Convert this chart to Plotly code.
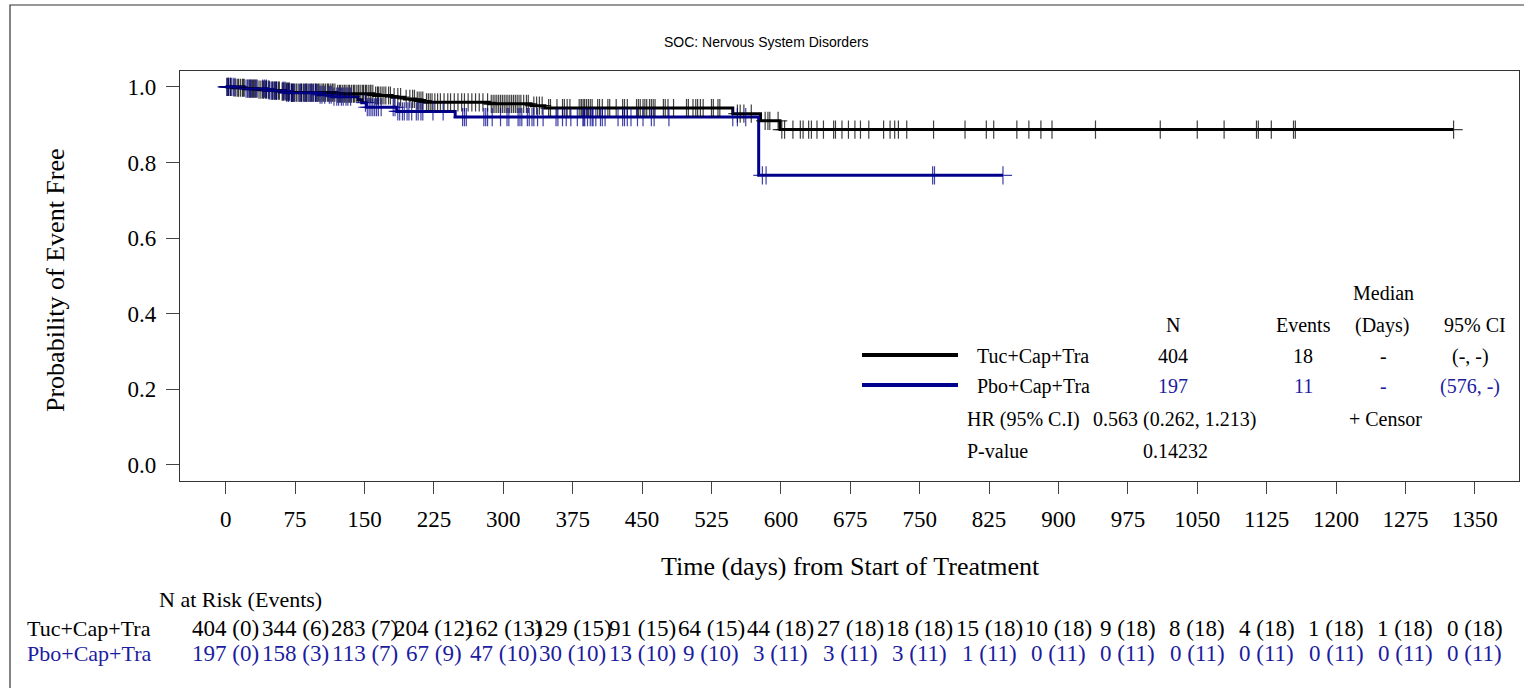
import plotly.graph_objects as go

# ------------------------------------------------------------------ data
tick_days = [0, 75, 150, 225, 300, 375, 450, 525, 600, 675, 750, 825, 900,
             975, 1050, 1125, 1200, 1275, 1350]
prob_ticks = [0.0, 0.2, 0.4, 0.6, 0.8, 1.0]

arm_names = ["Tuc+Cap+Tra", "Pbo+Cap+Tra"]

# Tuc+Cap+Tra : event days and KM survival after each event
tuc_event_days = [8, 22, 35, 48, 60, 70, 120, 160, 180, 193, 205, 215, 285,
                  330, 345, 548, 578, 599]
tuc_event_surv = [0.9975, 0.995, 0.9925, 0.990, 0.9874, 0.9848, 0.9816, 0.977,
                  0.9725, 0.968, 0.9635, 0.959, 0.955, 0.950, 0.944, 0.929,
                  0.910, 0.887]
tuc_last_day = 1327
tuc_censor_days = [
    2, 3, 5, 6, 9, 11, 13, 14, 16, 18, 19, 20, 24, 26, 27, 29, 30, 32, 33, 36,
    38, 40, 41, 43, 44, 46, 47, 50, 51, 53, 54, 55, 57, 58, 61, 62, 63, 65, 66,
    67, 68, 69, 71, 72, 73, 74,
    76, 77, 79, 81, 82, 84, 86, 87, 88, 90, 92, 93, 95, 97, 98, 100, 101, 103,
    105, 106, 108, 110, 111, 113, 115, 116, 118, 121, 123, 124, 126, 128, 129,
    131, 133, 134, 136, 138, 139, 141, 143, 144, 146, 148, 149,
    151, 152, 154, 156, 157, 159, 162, 164, 165, 167, 169, 171, 173, 176, 178,
    182, 186, 189, 195, 199, 202, 204, 207, 209, 211, 213, 217, 219, 221, 223,
    226, 229, 232, 236, 240, 243, 247, 251, 255, 258, 262, 266, 270, 274, 278,
    283, 287, 289, 291, 293, 295, 297, 299,
    301, 303, 305, 307, 309, 311, 313, 315, 317, 319, 322, 325, 327, 333, 336,
    339, 342, 349, 351, 358, 364, 366, 369, 372,
    382, 384, 385, 387, 388, 390, 392, 394, 396, 402, 404, 407, 413, 415, 422,
    429, 431, 434, 444, 446, 448,
    451, 453, 455, 458, 460, 462, 464, 473, 475, 478, 484, 498, 500, 505, 508,
    510, 513, 516, 525,
    527, 532, 534, 553, 556, 560, 568, 583, 586, 588, 597,
    601, 604, 613, 621, 624, 630, 633, 639, 646, 657, 659, 666, 673,
    680, 686, 695, 711, 718, 723, 727, 736,
    765, 799, 822, 830, 855, 868, 881, 893, 940, 1010, 1050, 1079, 1114, 1116,
    1130, 1154, 1156, 1327]

# Pbo+Cap+Tra
pbo_event_days = [20, 45, 65, 100, 115, 143, 147, 152, 185, 248, 576]
pbo_event_surv = [0.995, 0.990, 0.984, 0.979, 0.974, 0.966, 0.958, 0.946,
                  0.935, 0.920, 0.766]
pbo_last_day = 840
pbo_censor_days = [
    1, 3, 5, 8, 10, 22, 24, 26, 28, 31, 34, 40, 42, 44, 47, 49, 51, 53, 55, 62,
    64, 66, 68, 71, 72, 74,
    80, 82, 85, 87, 90, 92, 94, 97, 99, 102, 104, 107, 112, 114, 117, 120, 122,
    125, 127, 130, 132, 135,
    151, 153, 155, 157, 159, 161, 163, 165, 168, 181, 183, 186, 188, 191, 193,
    196, 198, 201, 206, 208, 211, 213, 224,
    235, 256, 258, 260, 279, 281, 283, 288, 297,
    304, 306, 316, 318, 320, 326, 328, 331, 333, 337, 343, 357, 359, 364, 368,
    373,
    380, 386, 387, 388, 391, 394, 396, 397, 400, 405, 407, 410, 424, 429, 431,
    434, 438, 445,
    451, 460, 463, 479, 548, 553, 562, 580, 584, 764, 766, 840]

tuc_at_risk = [404, 344, 283, 204, 162, 129, 91, 64, 44, 27, 18, 15, 10, 9, 8,
               4, 1, 1, 0]
tuc_cum_events = [0, 6, 7, 12, 13, 15, 15, 15, 18, 18, 18, 18, 18, 18, 18, 18,
                  18, 18, 18]
pbo_at_risk = [197, 158, 113, 67, 47, 30, 13, 9, 3, 3, 3, 1, 0, 0, 0, 0, 0, 0,
               0]
pbo_cum_events = [0, 3, 7, 9, 10, 10, 10, 10, 11, 11, 11, 11, 11, 11, 11, 11,
                  11, 11, 11]

table_headers = ["N", "Events", "(Days)", "95% CI"]
tuc_stats = ["404", "18", "-", "(-, -)"]
pbo_stats = ["197", "11", "-", "(576, -)"]
hr_label, hr_value = "HR (95% C.I)", "0.563 (0.262, 1.213)"
p_label, p_value = "P-value", "0.14232"

# ------------------------------------------------------------------ style
BLACK = "#000000"
BLUE_LINE = "#00008C"
BLUE_TEXT = "#1C1CA0"
SERIF = "Liberation Serif, Times New Roman, serif"
SANS = "Liberation Sans, Arial, sans-serif"

W, H = 1524, 688
L, R, T, B = 180, 1519, 71, 481    # plot box, page pixels


def px(x):
    return (x - L) / (R - L)


def py(y):
    return (B - y) / (B - T)


def surv_at(t, days, surv):
    s = 1.0
    for d, v in zip(days, surv):
        if d <= t:
            s = v
    return s


fig = go.Figure()

arms = [
    (arm_names[0], tuc_event_days, tuc_event_surv, tuc_last_day,
     tuc_censor_days, BLACK, "rgba(0,0,0,0.75)"),
    (arm_names[1], pbo_event_days, pbo_event_surv, pbo_last_day,
     pbo_censor_days, BLUE_LINE, "rgba(0,0,140,0.75)"),
]
for name, ed, es, last, cd, col, ccol in arms:
    xs = [0] + ed + [last]
    ys = [1.0] + es + [es[-1]]
    fig.add_trace(go.Scatter(x=xs, y=ys, mode="lines", line_shape="hv",
                             line=dict(color=col, width=3), name=name,
                             showlegend=False, hoverinfo="skip"))
for name, ed, es, last, cd, col, ccol in arms:
    fig.add_trace(go.Scatter(
        x=cd, y=[surv_at(t, ed, es) for t in cd], mode="markers",
        marker=dict(symbol="cross-thin", size=13, color=ccol,
                    line=dict(color=ccol, width=1.2)),
        showlegend=False, hoverinfo="skip"))

annotations = []


def add_text(x, y, text, color=BLACK, size=20, xanchor="center",
             font=SERIF, xref="paper"):
    annotations.append(dict(
        x=x if xref != "paper" else px(x), y=py(y), xref=xref, yref="paper",
        text=text, showarrow=False, xanchor=xanchor, yanchor="middle",
        font=dict(family=font, size=size, color=color)))


# legend / statistics table
col_x = [1173, 1303, 1382, 1475]
add_text(1383, 293, "Median")
for cx, h in zip(col_x, table_headers):
    add_text(cx, 325, h)
row_y = [356, 386]
for (name, stats, tcol), ry in zip(
        [(arm_names[0], tuc_stats, BLACK), (arm_names[1], pbo_stats, BLUE_TEXT)],
        row_y):
    add_text(975, ry, name, xanchor="left")
    for cx, s in zip([1173, 1303, 1383, 1470], stats):
        add_text(cx, ry, s, color=tcol)
add_text(965, 419, hr_label, xanchor="left")
add_text(1258, 419, hr_value, xanchor="right")
add_text(1347, 419, "+ Censor", xanchor="left")
add_text(965, 451, p_label, xanchor="left")
add_text(1175, 451, p_value)

# axis titles and main title
add_text(850, 566, "Time (days) from Start of Treatment", size=26)
annotations.append(dict(x=px(55), y=py(280), xref="paper", yref="paper",
                        text="Probability of Event Free", showarrow=False,
                        textangle=-90, xanchor="center", yanchor="middle",
                        font=dict(family=SERIF, size=26, color=BLACK)))
add_text(766, 42, "SOC: Nervous System Disorders", size=14, font=SANS)

# number at risk table
add_text(157, 599, "N at Risk (Events)", xanchor="left", size=22)
for lab, ry, tcol in [(arm_names[0], 628, BLACK), (arm_names[1], 653, BLUE_TEXT)]:
    add_text(25, ry, lab, xanchor="left", size=22, color=tcol)
for d, n, e in zip(tick_days, tuc_at_risk, tuc_cum_events):
    add_text(d, 628, f"{n} ({e})", xref="x", size=23)
for d, n, e in zip(tick_days, pbo_at_risk, pbo_cum_events):
    add_text(d, 653, f"{n} ({e})", xref="x", size=23, color=BLUE_TEXT)

shapes = [
    # outer graph border (left/top visible)
    dict(type="rect", xref="paper", yref="paper", x0=px(10), x1=px(1560),
         y0=py(720), y1=py(5), line=dict(color="#333333", width=1.2)),
    # legend line samples
    dict(type="line", xref="paper", yref="paper", x0=px(862), x1=px(958),
         y0=py(355), y1=py(355), line=dict(color=BLACK, width=4)),
    dict(type="line", xref="paper", yref="paper", x0=px(862), x1=px(958),
         y0=py(385), y1=py(385), line=dict(color=BLUE_LINE, width=4)),
]

x_min = -49.4
x_max = 1397.7
fig.update_layout(
    width=W, height=H, autosize=False,
    margin=dict(l=L, r=W - R, t=T, b=H - B, pad=0),
    paper_bgcolor="white", plot_bgcolor="white",
    annotations=annotations, shapes=shapes,
    xaxis=dict(range=[x_min, x_max], tickvals=tick_days, ticks="outside",
               ticklen=12, tickwidth=1, tickcolor="#444444",
               showgrid=False, zeroline=False, showline=True, mirror=True,
               linecolor="#333333", linewidth=1.2,
               tickfont=dict(family=SERIF, size=23, color=BLACK),
               ticklabelstandoff=5),
    yaxis=dict(range=[-0.0424, 1.0418], tickvals=prob_ticks, tickformat=".1f",
               ticks="outside", ticklen=13, tickwidth=1, tickcolor="#444444",
               showgrid=False, zeroline=False, showline=True, mirror=True,
               linecolor="#333333", linewidth=1.2,
               tickfont=dict(family=SERIF, size=23, color=BLACK),
               ticklabelstandoff=5),
)

# remove the browser's default page margin so the figure sits at (0, 0)
fig.write_html("out.html",
               config={"displayModeBar": False},
               post_script="document.body.style.margin='0px';"
                           "document.body.style.overflow='hidden';")
